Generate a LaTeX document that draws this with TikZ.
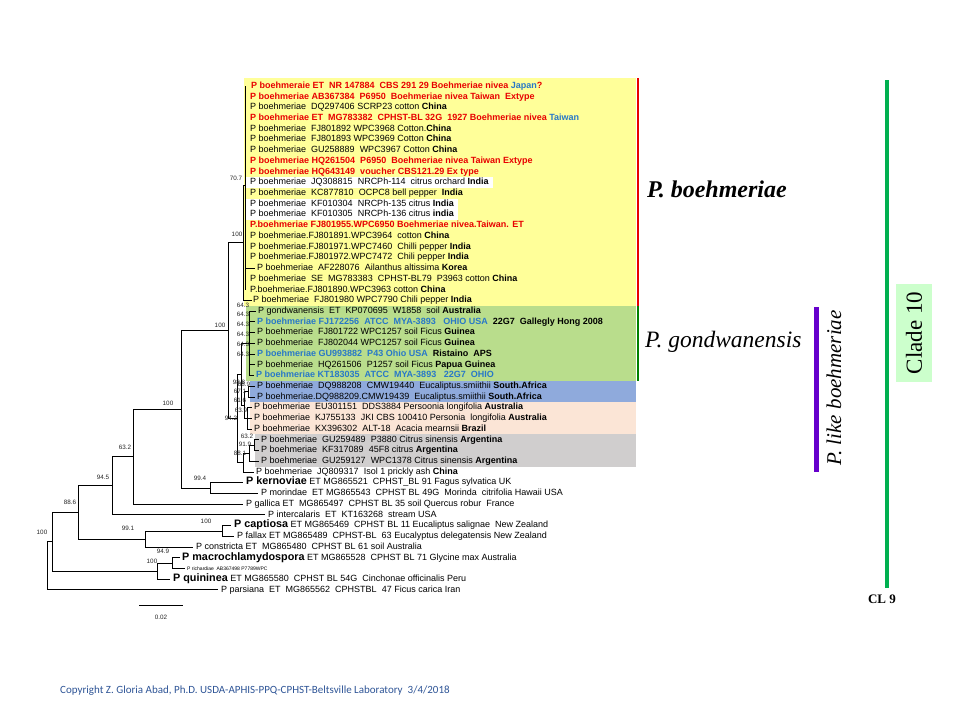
\documentclass[tikz,border=0pt]{standalone}
\usepackage{fontspec}
\setmainfont{Liberation Serif}
\newfontfamily\arialf{Liberation Sans}
\newfontfamily\calibrif{Carlito}
\definecolor{cred}{RGB}{232,0,0}
\definecolor{cblue}{RGB}{40,120,200}
\definecolor{byellow}{RGB}{255,255,153}
\definecolor{bgreen}{RGB}{185,221,140}
\definecolor{bblue}{RGB}{143,170,220}
\definecolor{bpeach}{RGB}{251,229,214}
\definecolor{bgray}{RGB}{208,206,206}
\definecolor{lgreen}{RGB}{0,176,80}
\definecolor{dgreen}{RGB}{0,128,0}
\definecolor{cpurple}{RGB}{102,0,204}
\definecolor{cladebg}{RGB}{204,255,204}
\definecolor{copyc}{RGB}{47,85,151}
\newcommand{\txred}[1]{\textcolor{cred}{\bfseries #1}}
\newcommand{\txblue}[1]{\textcolor{cblue}{\bfseries #1}}
\newcommand{\txbold}[1]{{\bfseries #1}}
\newcommand{\txbig}[1]{{\fontsize{10.8}{12}\selectfont\bfseries #1}}
\begin{document}
\begin{tikzpicture}[x=1pt,y=-1pt,
  treeline/.style={line width=0.75pt, black},
  leafnode/.style={inner sep=0pt, anchor=west, text height=6.5pt, text depth=1.8pt, font=\arialf\fontsize{9}{10}\selectfont},
  bsv/.style={inner sep=0pt, font=\arialf\fontsize{6.3}{7}\selectfont, text=black!85},
  bigital/.style={inner sep=0pt, font=\fontsize{23.5}{26}\selectfont\itshape}]
\useasboundingbox (0,0) rectangle (960,720);
\fill[white] (0,0) rectangle (960,720);
% coloured boxes
\fill[byellow] (244,78) rectangle (636,305.8);
\fill[bgreen] (246,305.8) rectangle (636,380.8);
\fill[bblue] (250,380.8) rectangle (636,402.2);
\fill[bpeach] (250,402.2) rectangle (636,434.4);
\fill[bgray] (255,434.4) rectangle (636,466.5);
\fill[white] (246,177.1) rectangle (493,187.9);
\fill[white] (246,198.5) rectangle (458,220);
\draw[cred, line width=2.5pt] (638,78) -- (638,305.8);
\draw[dgreen, line width=2.5pt] (638,305.8) -- (638,380.8);
% leaves
\node[leafnode] (l1) at (251,86.0) {\txred{P boehmeraie ET~ NR 147884~ CBS 291 29 Boehmeriae nivea }\txblue{Japan}\txred{?}};
\node[leafnode] (l2) at (250,96.7) {\txred{P boehmeriae AB367384~ P6950~ Boehmeriae nivea Taiwan~ Extype}};
\node[leafnode] (l3) at (250,107.4) {P boehmeriae~ DQ297406 SCRP23 cotton \txbold{China}};
\node[leafnode] (l4) at (250,118.2) {\txred{P boehmeriae ET~ MG783382~ CPHST-BL 32G~ 1927 Boehmeriae nivea }\txblue{Taiwan}};
\node[leafnode] (l5) at (250,128.9) {P boehmeriae~ FJ801892 WPC3968 Cotton.\txbold{China}};
\node[leafnode] (l6) at (250,139.6) {P boehmeriae~ FJ801893 WPC3969 Cotton \txbold{China}};
\node[leafnode] (l7) at (250,150.3) {P boehmeriae~ GU258889~ WPC3967 Cotton \txbold{China}};
\node[leafnode] (l8) at (250,161.0) {\txred{P boehmeriae HQ261504~ P6950~ Boehmeriae nivea Taiwan Extype}};
\node[leafnode] (l9) at (250,171.8) {\txred{P boehmeriae HQ643149~ voucher CBS121.29 Ex type}};
\node[leafnode] (l10) at (250,182.5) {P boehmeriae~ JQ308815~ NRCPh-114~ citrus orchard \txbold{India}};
\node[leafnode] (l11) at (250,193.2) {P boehmeriae~ KC877810~ OCPC8 bell pepper~ \txbold{India}};
\node[leafnode] (l12) at (250,203.9) {P boehmeriae~ KF010304~ NRCPh-135 citrus \txbold{India}};
\node[leafnode] (l13) at (250,214.6) {P boehmeriae~ KF010305~ NRCPh-136 citrus \txbold{india}};
\node[leafnode] (l14) at (250,225.4) {\txred{P.boehmeriae FJ801955.WPC6950 Boehmeriae nivea.Taiwan. ET}};
\node[leafnode] (l15) at (250,236.1) {P boehmeriae.FJ801891.WPC3964~ cotton \txbold{China}};
\node[leafnode] (l16) at (250,246.8) {P boehmeriae.FJ801971.WPC7460~ Chilli pepper \txbold{India}};
\node[leafnode] (l17) at (250,257.5) {P boehmeriae.FJ801972.WPC7472~ Chili pepper \txbold{India}};
\node[leafnode] (l18) at (257,268.2) {P boehmeriae~ AF228076~ Ailanthus altissima \txbold{Korea}};
\node[leafnode] (l19) at (250,279.0) {P boehmeriae~ SE~ MG783383~ CPHST-BL79~ P3963 cotton \txbold{China}};
\node[leafnode] (l20) at (250,289.7) {P.boehmeriae.FJ801890.WPC3963 cotton \txbold{China}};
\node[leafnode] (l21) at (253,300.4) {P boehmeriae~ FJ801980 WPC7790 Chili pepper \txbold{India}};
\node[leafnode] (l22) at (258,311.1) {P gondwanensis~ ET~ KP070695~ W1858~ soil \txbold{Australia}};
\node[leafnode] (l23) at (257,321.8) {\txblue{P boehmeriae FJ172256~ ATCC~ MYA-3893~~ OHIO USA}\txbold{~ 22G7~ Gallegly Hong 2008}};
\node[leafnode] (l24) at (257,332.6) {P boehmeriae~ FJ801722 WPC1257 soil Ficus \txbold{Guinea}};
\node[leafnode] (l25) at (257,343.3) {P boehmeriae~ FJ802044 WPC1257 soil Ficus \txbold{Guinea}};
\node[leafnode] (l26) at (257,354.0) {\txblue{P boehmeriae GU993882~ P43 Ohio USA}\txbold{~ Ristaino~ APS}};
\node[leafnode] (l27) at (257,364.7) {P boehmeriae~ HQ261506~ P1257 soil Ficus \txbold{Papua Guinea}};
\node[leafnode] (l28) at (256,375.4) {\txblue{P boehmeriae KT183035~ ATCC~ MYA-3893~~ 22G7~ OHIO}};
\node[leafnode] (l29) at (257,386.2) {P boehmeriae~ DQ988208~ CMW19440~ Eucaliptus.smiithii \txbold{South.Africa}};
\node[leafnode] (l30) at (257,396.9) {P boehmeriae.DQ988209.CMW19439~ Eucaliptus.smiithii \txbold{South.Africa}};
\node[leafnode] (l31) at (254,407.6) {P boehmeriae~ EU301151~ DDS3884 Persoonia longifolia \txbold{Australia}};
\node[leafnode] (l32) at (254,418.3) {P boehmeriae~ KJ755133~ JKI CBS 100410 Personia~ longifolia \txbold{Australia}};
\node[leafnode] (l33) at (254,429.0) {P boehmeriae~ KX396302~ ALT-18~ Acacia mearnsii \txbold{Brazil}};
\node[leafnode] (l34) at (261,439.8) {P boehmeriae~ GU259489~ P3880 Citrus sinensis \txbold{Argentina}};
\node[leafnode] (l35) at (261,450.5) {P boehmeriae~ KF317089~ 45F8 citrus \txbold{Argentina}};
\node[leafnode] (l36) at (261,461.2) {P boehmeriae~ GU259127~ WPC1378 Citrus sinensis \txbold{Argentina}};
\node[leafnode] (l37) at (256,471.9) {P boehmeriae~ JQ809317~ Isol 1 prickly ash \txbold{China}};
\node[leafnode] (l38) at (246,482.6) {\txbig{P kernoviae} ET MG865521~ CPHST\_BL 91 Fagus sylvatica UK};
\node[leafnode] (l39) at (261,493.4) {P morindae~ ET MG865543~ CPHST BL 49G~ Morinda~ citrifolia Hawaii USA};
\node[leafnode] (l40) at (246,504.1) {P gallica ET~ MG865497~ CPHST BL 35 soil Quercus robur~ France};
\node[leafnode] (l41) at (268,514.8) {P intercalaris~ ET~ KT163268~ stream USA};
\node[leafnode] (l42) at (234,525.5) {\txbig{P captiosa} ET MG865469~ CPHST BL 11 Eucaliptus salignae~ New Zealand};
\node[leafnode] (l43) at (237,536.2) {P fallax ET MG865489~ CPHST-BL~ 63 Eucalyptus delegatensis New Zealand};
\node[leafnode] (l44) at (196,547.0) {P constricta ET~ MG865480~ CPHST BL 61 soil Australia};
\node[leafnode] (l45) at (182,557.7) {\txbig{P macrochlamydospora} ET MG865528~ CPHST BL 71 Glycine max Australia};
\node[leafnode, font=\arialf\fontsize{5}{6}\selectfont] (l46) at (187,568.4) {P richardiae~ AB367498 P7789WPC};
\node[leafnode] (l47) at (173,579.1) {\txbig{P quininea} ET MG865580~ CPHST BL 54G~ Cinchonae officinalis Peru};
\node[leafnode] (l48) at (221,589.8) {P parsiana~ ET~ MG865562~ CPHSTBL~ 47 Ficus carica Iran};
% internal nodes of the tree
\coordinate (R) at (47,565.7);
\coordinate (A) at (52,541.7);
\coordinate (n886) at (78,512.3);
\coordinate (n945) at (112,485.7);
\coordinate (n632) at (133,456.7);
\coordinate (N1) at (181,409.3);
\coordinate (N2) at (228,330.5);
\coordinate (B0) at (243,242.7);
\coordinate (n707) at (245,185);
\coordinate (L) at (237,418.3);
\coordinate (D) at (241,374.1);
\coordinate (G) at (249,343.3);
\coordinate (E) at (244,404.9);
\coordinate (SA) at (248,391.5);
\coordinate (PE) at (247,418.3);
\coordinate (n881) at (243,462.5);
\coordinate (n919) at (249,453.2);
\coordinate (n632b) at (254,445.1);
\coordinate (n994) at (210,488);
\coordinate (ncap) at (222,530.9);
\coordinate (n991) at (145,538.9);
\coordinate (nmac) at (172,563);
\coordinate (B) at (157,571.1);
% branches
\draw[treeline] (R) |- (A);
\draw[treeline] (R) |- ([xshift=-3pt]l48.west);
\draw[treeline] (A) |- (n886);
\draw[treeline] (A) |- (B);
\draw[treeline] (n886) |- (n945);
\draw[treeline] (n886) |- (n991);
\draw[treeline] (n945) |- (n632);
\draw[treeline] (n945) |- ([xshift=-3pt]l41.west);
\draw[treeline] (n632) |- (N1);
\draw[treeline] (n632) |- ([xshift=-3pt]l40.west);
\draw[treeline] (N1) |- (N2);
\draw[treeline] (N1) |- (n994);
\draw[treeline] (n994) |- ([xshift=-3pt]l38.west);
\draw[treeline] (n994) |- ([xshift=-3pt]l39.west);
\draw[treeline] (N2) |- (B0);
\draw[treeline] (N2) |- (L);
\draw[treeline] (B0) |- (n707);
\draw[treeline] (B0) |- ([xshift=-1pt]l21.west);
\draw[treeline] (n707 |- l1.west) -- (n707 |- l20.west);
\draw[treeline] (n707 |- l18.west) -- ([xshift=-2pt]l18.west);
\draw[treeline] (L) |- (D);
\draw[treeline] (L) |- (n881);
\draw[treeline] (D) |- (G);
\draw[treeline] (D) |- (E);
\foreach \k in {22,...,28} \draw[treeline] (G) |- ([xshift=-2pt]l\k.west);
\draw[treeline] (E) |- (SA);
\draw[treeline] (E) |- (PE);
\foreach \k in {29,30} \draw[treeline] (SA) |- ([xshift=-2pt]l\k.west);
\foreach \k in {31,32,33} \draw[treeline] (PE) |- ([xshift=-2pt]l\k.west);
\draw[treeline] (n881) |- (n919);
\draw[treeline] (n881) |- ([xshift=-2pt]l37.west);
\draw[treeline] (n919) |- (n632b);
\draw[treeline] (n919) |- ([xshift=-2pt]l36.west);
\draw[treeline] (n632b) |- ([xshift=-2pt]l34.west);
\draw[treeline] (n632b) |- ([xshift=-2pt]l35.west);
\draw[treeline] (n991) |- (ncap);
\draw[treeline] (n991) |- ([xshift=-3pt]l44.west);
\draw[treeline] (ncap) |- ([xshift=-3pt]l42.west);
\draw[treeline] (ncap) |- ([xshift=-3pt]l43.west);
\draw[treeline] (B) |- (nmac);
\draw[treeline] (B) |- ([xshift=-3pt]l47.west);
\draw[treeline] (nmac) |- ([xshift=-2pt]l45.west);
\draw[treeline] (nmac) |- ([xshift=-2pt]l46.west);
% bootstrap values
\node[bsv] (b1) at (236,178) {70.7};
\node[bsv] (b2) at (237,234) {100};
\node[bsv] (b3) at (243,305.5) {64.3};
\node[bsv] (b4) at (243,314.5) {64.3};
\node[bsv] (b5) at (243,324) {64.3};
\node[bsv] (b6) at (243,334) {64.3};
\node[bsv] (b7) at (243,344) {64.3};
\node[bsv] (b8) at (243,354) {64.3};
\node[bsv] (b9) at (220,325) {100};
\node[bsv] (b10) at (239,382) {98.8};
\node[bsv] (b11) at (244,384.5) {88.9};
\node[bsv] (b12) at (240,391) {67.1};
\node[bsv] (b13) at (240,400) {61.6};
\node[bsv] (b14) at (241,410) {63.9};
\node[bsv] (b15) at (231,418) {94.2};
\node[bsv] (b16) at (247,436) {63.2};
\node[bsv] (b17) at (245,444) {91.9};
\node[bsv] (b18) at (240,453) {88.1};
\node[bsv] (b19) at (168,403) {100};
\node[bsv] (b20) at (200,478) {99.4};
\node[bsv] (b21) at (125,447) {63.2};
\node[bsv] (b22) at (103,477) {94.5};
\node[bsv] (b23) at (70,502) {88.6};
\node[bsv] (b24) at (42,532) {100};
\node[bsv] (b25) at (128,528) {99.1};
\node[bsv] (b26) at (206,521) {100};
\node[bsv] (b27) at (163,551) {94.9};
\node[bsv] (b28) at (152,561) {100};
% scale bar
\coordinate (sb1) at (139,605);
\coordinate (sb2) at (183,605);
\draw[treeline] (sb1) -- (sb2);
\node[bsv] (sbl) at (161,617) {0.02};
% clade labels
\node[bigital, font=\fontsize{24}{26}\selectfont\bfseries\itshape, anchor=base west] (pb) at (647,197) {P. boehmeriae};
\node[bigital, anchor=base west] (pg) at (645,347) {P. gondwanensis};
\draw[cpurple, line width=5pt] (816,307) -- (816,472);
\node[inner sep=0pt, rotate=90, font=\fontsize{21}{24}\selectfont\itshape] (pl) at (834,388) {P. like boehmeriae};
\draw[lgreen, line width=4pt] (887,80) -- (887,588);
\fill[cladebg] (896,284) rectangle (932,382);
\node[inner sep=0pt, rotate=90, font=\fontsize{23}{26}\selectfont] (c10) at (914,333) {Clade 10};
\node[inner sep=0pt, font=\fontsize{13}{15}\selectfont\bfseries] (c9) at (882,599) {CL 9};
\node[inner sep=0pt, anchor=base west, font=\calibrif\fontsize{11}{13}\selectfont, text=copyc] (copy) at (60,693) {Copyright Z. Gloria Abad, Ph.D. USDA-APHIS-PPQ-CPHST-Beltsville Laboratory~ 3/4/2018};
\end{tikzpicture}
\end{document}
